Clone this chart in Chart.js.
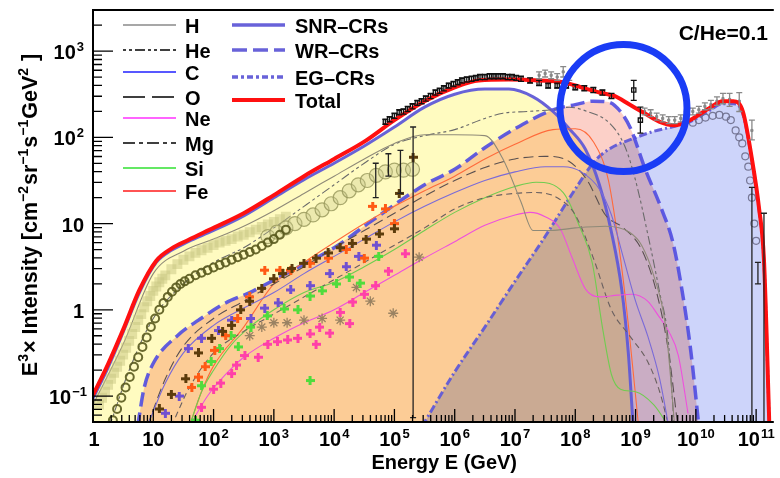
<!DOCTYPE html>
<html>
<head>
<meta charset="utf-8">
<script src="https://cdn.jsdelivr.net/npm/chart.js@4.4.1/dist/chart.umd.min.js"></script>
<style>
  html, body { margin: 0; padding: 0; background: #fff; }
  #wrap { width: 780px; height: 478px; }
</style>
</head>
<body>
<div id="wrap"><canvas id="myChart"></canvas></div>
<script>
// values, all as log10 (E in GeV, E^3 x intensity)
const totalLogE = [0, 0.25, 0.5, 0.77, 1.05, 1.3, 1.58, 2.0, 2.5, 3.0, 3.5, 4.0, 4.5, 5.0, 5.5, 6.0, 6.4, 6.9, 7.4, 7.8, 8.1, 8.4, 8.65, 8.9, 9.15, 9.4, 9.65, 9.9, 10.2, 10.45, 10.62, 10.78, 10.93, 11.05, 11.13, 11.22];
const totalLogI = [-0.99, -0.63, -0.23, 0.23, 0.57, 0.71, 0.81, 0.95, 1.12, 1.33, 1.55, 1.75, 1.95, 2.2, 2.42, 2.58, 2.66, 2.67, 2.66, 2.64, 2.58, 2.52, 2.48, 2.38, 2.28, 2.18, 2.14, 2.2, 2.33, 2.42, 2.42, 2.3, 1.75, 1.17, 0.58, -1.35];

const snrLogE = [0, 0.25, 0.5, 0.77, 1.05, 1.3, 1.58, 2.0, 2.5, 3.0, 3.5, 4.0, 4.5, 5.0, 5.5, 6.0, 6.5, 6.9, 7.3, 7.63, 7.9, 8.17, 8.4, 8.6, 8.77, 8.88, 8.96];
const snrLogI = [-1.03, -0.67, -0.26, 0.2, 0.55, 0.69, 0.79, 0.92, 1.09, 1.3, 1.51, 1.7, 1.9, 2.12, 2.35, 2.5, 2.56, 2.56, 2.47, 2.3, 2.1, 1.86, 1.45, 0.9, 0.24, -0.5, -1.35];

const wrLogE = [0.74, 0.85, 1.0, 1.4, 1.75, 2.2, 2.6, 3.2, 4.0, 4.6, 5.5, 6.0, 6.5, 7.0, 7.63, 8.0, 8.3, 8.55, 8.75, 8.92, 9.15, 9.43, 9.62, 9.8, 9.92, 10.05];
const wrLogI = [-1.35, -0.9, -0.62, -0.3, -0.12, 0.08, 0.2, 0.42, 0.72, 1.02, 1.45, 1.63, 1.88, 2.1, 2.32, 2.38, 2.42, 2.41, 2.3, 2.1, 1.65, 1.17, 0.78, 0.1, -0.5, -1.35];

const egLogE = [5.46, 6.0, 6.5, 7.0, 7.5, 8.0, 8.33, 8.6, 8.94, 9.3, 9.6, 9.9, 10.2, 10.45, 10.62, 10.78, 10.93, 11.05, 11.13, 11.22];
const egLogI = [-1.35, -0.72, -0.2, 0.33, 0.85, 1.4, 1.73, 1.88, 1.98, 2.07, 2.12, 2.18, 2.3, 2.39, 2.39, 2.27, 1.73, 1.15, 0.55, -1.35];

// element curves
const hLogE = [0, 0.5, 1, 1.5, 2, 2.5, 3, 3.5, 4, 4.5, 5, 5.5, 6, 6.5, 6.8, 7.1, 7.3, 7.6, 8.0, 8.5, 8.9, 9.1, 9.3, 9.5, 9.65];
const hLogI = [-1.1, -0.4, 0.42, 0.68, 0.82, 0.97, 1.15, 1.35, 1.55, 1.75, 1.93, 2.03, 2.03, 2.02, 1.75, 1.25, 0.92, 0.92, 0.95, 0.97, 0.9, 0.75, 0.4, -0.2, -1.35];
const heLogE = [0.3, 0.6, 1, 1.5, 2, 2.5, 3, 3.5, 4, 4.5, 5, 5.5, 6, 6.5, 6.8, 7.2, 7.6, 7.9, 8.2, 8.56, 8.82, 9.0, 9.22, 9.4, 9.54, 9.64];
const heLogI = [-1.3, -0.7, -0.1, 0.3, 0.55, 0.72, 0.95, 1.2, 1.45, 1.7, 1.92, 2.02, 2.09, 2.22, 2.28, 2.3, 2.32, 2.35, 2.3, 2.17, 1.9, 1.5, 0.82, 0.2, -0.34, -1.35];
const cLogE = [0.9, 1.2, 1.5, 2, 2.5, 3, 3.5, 4, 4.5, 5, 5.5, 6, 6.5, 7, 7.5, 7.8, 8.1, 8.4, 8.6, 8.8, 9.0, 9.2, 9.4, 9.55];
const cLogI = [-1.35, -0.85, -0.5, -0.18, 0.02, 0.2, 0.42, 0.62, 0.82, 1.02, 1.2, 1.36, 1.5, 1.6, 1.66, 1.66, 1.6, 1.4, 1.1, 0.6, 0.1, -0.3, -0.8, -1.35];
const oLogE = [0.9, 1.2, 1.5, 2, 2.5, 3, 3.5, 4, 4.5, 5, 5.5, 6, 6.5, 7, 7.5, 7.9, 8.2, 8.5, 8.8, 9.1, 9.35, 9.55, 9.7];
const oLogI = [-1.35, -0.8, -0.42, -0.1, 0.1, 0.3, 0.5, 0.72, 0.92, 1.12, 1.32, 1.5, 1.65, 1.75, 1.78, 1.72, 1.5, 1.1, 0.95, 0.7, 0.2, -0.5, -1.35];
const neLogE = [1.6, 1.9, 2.2, 2.5, 3, 3.5, 4, 4.5, 5, 5.5, 6, 6.5, 7, 7.25, 7.5, 7.75, 7.95, 8.17, 8.4, 8.7, 8.94, 9.2, 9.38, 9.55, 9.71, 9.87];
const neLogI = [-1.35, -1.0, -0.75, -0.55, -0.33, -0.15, 0.0, 0.2, 0.4, 0.6, 0.79, 0.98, 1.1, 1.13, 1.08, 0.94, 0.6, 0.24, 0.15, 0.17, 0.18, 0.1, -0.07, -0.25, -0.53, -1.2];
const mgLogE = [1.3, 1.6, 2, 2.5, 3, 3.5, 4, 4.5, 5, 5.5, 6, 6.5, 7, 7.35, 7.7, 8.0, 8.3, 8.6, 8.9, 9.2, 9.4, 9.55];
const mgLogI = [-1.35, -0.9, -0.5, -0.25, -0.05, 0.15, 0.35, 0.55, 0.75, 0.95, 1.17, 1.3, 1.35, 1.36, 1.3, 1.1, 0.6, 0.0, -0.3, -0.6, -0.95, -1.35];
const siLogE = [1.6, 1.8, 2, 2.3, 2.6, 3, 3.5, 4, 4.5, 5, 5.5, 6, 6.5, 7, 7.35, 7.8, 8.07, 8.28, 8.45, 8.6, 8.75, 9.0, 9.3, 9.55];
const siLogI = [-1.35, -0.95, -0.7, -0.4, -0.2, 0.0, 0.2, 0.32, 0.5, 0.7, 0.92, 1.13, 1.3, 1.43, 1.48, 1.36, 0.97, 0.55, -0.2, -0.75, -0.92, -0.95, -1.1, -1.35];
const feLogE = [1.6, 1.8, 2, 2.5, 3, 3.5, 4, 4.5, 5, 5.5, 6, 6.5, 7, 7.63, 8.0, 8.3, 8.55, 8.75, 8.9, 9.05];
const feLogI = [-1.35, -0.95, -0.65, -0.2, 0.3, 0.55, 0.78, 1.0, 1.2, 1.38, 1.55, 1.75, 1.92, 2.09, 2.1, 1.95, 1.5, 0.6, -0.3, -1.35];

// measured points
const hDataE = [0.1, 0.15, 0.2, 0.25, 0.3, 0.35, 0.4, 0.45, 0.5, 0.55, 0.6, 0.65, 0.7, 0.75, 0.8, 0.85, 0.9, 0.95, 1.0, 1.05, 1.1, 1.15, 1.2, 1.3, 1.4, 1.5, 1.6, 1.7, 1.8, 1.9, 2.0, 2.1, 2.2, 2.3, 2.4, 2.5, 2.6, 2.7, 2.8, 2.9, 3.0, 3.1, 3.2];
const hDataI = [-1.1, -1.02, -0.95, -0.87, -0.8, -0.73, -0.66, -0.59, -0.52, -0.44, -0.36, -0.28, -0.2, -0.12, -0.05, 0.03, 0.1, 0.16, 0.22, 0.27, 0.32, 0.36, 0.4, 0.47, 0.53, 0.58, 0.62, 0.66, 0.69, 0.72, 0.75, 0.78, 0.8, 0.82, 0.85, 0.87, 0.9, 0.93, 0.96, 0.99, 1.02, 1.05, 1.08];
const heDataE = [0.33, 0.4, 0.47, 0.54, 0.61, 0.68, 0.75, 0.82, 0.89, 0.96, 1.03, 1.1, 1.17, 1.24, 1.31, 1.38, 1.45, 1.52, 1.6, 1.7, 1.8, 1.9, 2.0, 2.1, 2.2, 2.3, 2.4, 2.5, 2.6, 2.7, 2.8, 2.9, 3.0, 3.1, 3.2];
const heDataI = [-1.28, -1.15, -1.02, -0.9, -0.78, -0.66, -0.55, -0.43, -0.32, -0.2, -0.1, 0.0, 0.08, 0.15, 0.21, 0.26, 0.3, 0.33, 0.36, 0.4, 0.43, 0.46, 0.49, 0.52, 0.55, 0.58, 0.61, 0.64, 0.67, 0.7, 0.74, 0.78, 0.82, 0.87, 0.93];
const bigE = [2.9, 3.05, 3.2, 3.35, 3.5, 3.65, 3.8, 3.95, 4.1, 4.25, 4.4, 4.55, 4.7, 4.85, 5.0, 5.15, 5.3];
const bigI = [0.85, 0.9, 0.95, 1.0, 1.05, 1.1, 1.16, 1.23, 1.3, 1.38, 1.45, 1.5, 1.56, 1.6, 1.62, 1.62, 1.63];
const brownE = [1.1, 1.3, 1.54, 1.75, 1.97, 2.15, 2.3, 2.45, 2.6, 2.8, 3.0, 3.15, 3.3, 3.5, 3.7, 3.9, 4.1, 4.3, 4.53, 4.75, 5.0, 5.08, 5.31];
const brownI = [-1.15, -0.98, -0.8, -0.5, -0.33, -0.25, -0.18, 0.0, 0.1, 0.25, 0.36, 0.42, 0.48, 0.54, 0.6, 0.66, 0.72, 0.77, 0.82, 0.88, 0.94, 1.35, 1.77];
const orangeE = [1.64, 1.75, 1.86, 2.02, 2.2, 2.4, 2.6, 2.85, 3.1, 3.28, 3.6, 3.9, 4.2, 4.5, 4.64, 4.85, 5.0];
const orangeI = [-0.9, -0.78, -0.66, -0.47, -0.3, -0.1, 0.15, 0.46, 0.46, 0.46, 0.54, 0.6, 0.7, 0.6, 1.2, 1.17, 1.0];
const purpleE = [1.2, 1.43, 1.58, 1.8, 2.08, 2.3, 2.62, 2.85, 3.07, 3.28, 3.6, 3.93, 4.2, 4.41, 4.7];
const purpleI = [-1.2, -1.0, -0.45, -0.33, -0.24, -0.12, -0.1, 0.02, 0.08, 0.23, 0.28, 0.42, 0.5, 0.62, 0.75];
const greenE = [1.7, 1.8, 1.96, 2.1, 2.29, 2.41, 2.62, 2.89, 3.17, 3.4, 3.6, 3.8, 4.04, 4.25, 4.43, 4.74, 3.6];
const greenI = [-1.28, -0.88, -0.6, -0.45, -0.3, -0.43, -0.2, -0.07, 0.01, 0.0, 0.16, 0.22, 0.3, 0.38, 0.31, 0.62, -0.82];
const pinkE = [1.8, 2.0, 2.12, 2.3, 2.38, 2.52, 2.74, 2.9, 3.06, 3.23, 3.4, 3.6, 3.76, 3.93, 4.1, 4.26, 4.5, 4.69, 4.9, 5.18, 4.31, 3.7];
const pinkI = [-1.13, -0.92, -0.85, -0.74, -0.64, -0.53, -0.55, -0.4, -0.37, -0.35, -0.33, -0.28, -0.2, -0.27, -0.03, -0.16, 0.18, 0.28, 0.45, 0.65, 0.09, -0.4];
const starE = [2.6, 2.8, 3.0, 3.22, 3.5, 3.8, 4.1, 4.37, 4.6, 4.98, 5.41];
const starI = [-0.3, -0.2, -0.15, -0.15, -0.12, -0.1, -0.12, 0.26, 0.1, -0.04, 0.61];
const kneeE = [4.85, 4.92, 5.0, 5.08, 5.15, 5.22, 5.3, 5.38, 5.45, 5.52, 5.6, 5.68, 5.75, 5.82, 5.9, 5.98, 6.05, 6.12, 6.2, 6.28, 6.35, 6.42, 6.5, 6.58, 6.65, 6.72, 6.8, 6.88, 6.95, 7.02, 7.1, 7.25, 7.4, 7.55, 7.7, 7.85, 8.0, 8.15, 8.3, 8.45, 8.6, 8.97, 9.08];
const kneeI = [2.18, 2.21, 2.25, 2.29, 2.3, 2.33, 2.36, 2.4, 2.42, 2.45, 2.48, 2.52, 2.54, 2.57, 2.6, 2.62, 2.64, 2.66, 2.67, 2.68, 2.69, 2.7, 2.7, 2.71, 2.71, 2.71, 2.71, 2.7, 2.7, 2.69, 2.68, 2.66, 2.63, 2.6, 2.6, 2.6, 2.58, 2.57, 2.55, 2.52, 2.48, 2.55, 2.2];
const kneeLo = [2.15, 2.18, 2.22, 2.26, 2.27, 2.3, 2.33, 2.37, 2.39, 2.42, 2.45, 2.49, 2.51, 2.54, 2.57, 2.59, 2.61, 2.63, 2.64, 2.65, 2.66, 2.67, 2.67, 2.68, 2.68, 2.68, 2.68, 2.67, 2.67, 2.66, 2.65, 2.63, 2.6, 2.57, 2.57, 2.57, 2.55, 2.54, 2.52, 2.49, 2.45, 2.43, 2.05];
const kneeHi = [2.21, 2.24, 2.28, 2.32, 2.33, 2.36, 2.39, 2.43, 2.45, 2.48, 2.51, 2.55, 2.57, 2.6, 2.63, 2.65, 2.67, 2.69, 2.7, 2.71, 2.72, 2.73, 2.73, 2.74, 2.74, 2.74, 2.74, 2.73, 2.73, 2.72, 2.71, 2.69, 2.66, 2.63, 2.63, 2.63, 2.61, 2.6, 2.58, 2.55, 2.51, 2.66, 2.35];
const greyE = [7.4, 7.5, 7.6, 7.7, 7.8, 7.9, 9.15, 9.25, 9.35, 9.45, 9.55, 9.65, 9.75, 9.85, 9.95, 10.05, 10.15, 10.25, 10.35, 10.45, 10.56, 10.72, 10.93];
const greyI = [2.72, 2.74, 2.72, 2.7, 2.76, 2.7, 2.3, 2.28, 2.24, 2.22, 2.2, 2.2, 2.22, 2.26, 2.3, 2.32, 2.36, 2.38, 2.42, 2.45, 2.44, 2.42, 2.08];
const greyLo = [2.68, 2.7, 2.68, 2.66, 2.7, 2.66, 2.26, 2.24, 2.2, 2.18, 2.16, 2.16, 2.18, 2.22, 2.26, 2.28, 2.32, 2.33, 2.37, 2.39, 2.36, 2.3, 1.97];
const greyHi = [2.76, 2.78, 2.76, 2.74, 2.82, 2.74, 2.34, 2.32, 2.28, 2.26, 2.24, 2.24, 2.26, 2.3, 2.34, 2.36, 2.4, 2.43, 2.47, 2.51, 2.51, 2.52, 2.2];
const egDataE = [9.95, 10.05, 10.16, 10.28, 10.39, 10.5, 10.58, 10.66, 10.72, 10.77, 10.82, 10.87, 10.9, 10.93, 10.97, 11.0];
const egDataI = [2.17, 2.2, 2.23, 2.25, 2.26, 2.24, 2.2, 2.08, 2.0, 1.93, 1.78, 1.66, 1.5, 1.3, 1.0, 0.8];
const barE = [4.69, 4.9, 5.1, 5.31, 10.93, 11.13, 11.03];
const barI = [1.5, 1.68, 1.6, 1.77, 1.28, 1.0, 0.42];
const barLo = [1.3, 1.55, 1.35, -1.25, -1.4, -1.4, 0.3];
const barHi = [1.7, 1.81, 1.85, 2.12, 1.42, 1.12, 0.55];

const xTickExps = [0, 1, 2, 3, 4, 5, 6, 7, 8, 9, 10, 11];
const yTickExps = [-1, 0, 1, 2, 3];

const pts = (le, li) => le.map((e, i) => ({ x: Math.pow(10, e), y: Math.pow(10, li[i]) }));
const errs = (lo) => lo.map(v => (v === null ? null : Math.pow(10, v)));

function crossImg(color) {
  const c = document.createElement('canvas');
  c.width = c.height = 9;
  const g = c.getContext('2d');
  g.fillStyle = color;
  g.fillRect(3, 0, 3, 9);
  g.fillRect(0, 3, 9, 3);
  return c;
}

const FONT = '"Liberation Sans", Arial, Helvetica, sans-serif';
const compCol = 'rgba(96,90,215,0.95)';

function curve(le, li, color, width, dash, order, fillColor) {
  return {
    data: pts(le, li), borderColor: color, borderWidth: width, borderDash: dash || [],
    pointRadius: 0, cubicInterpolationMode: 'monotone', order: order,
    fill: fillColor ? 'start' : false, backgroundColor: fillColor || 'transparent'
  };
}
function marks(le, li, style, opts) {
  return Object.assign({
    data: pts(le, li), showLine: false, pointStyle: style, pointRadius: 4,
    borderWidth: 1, order: 2
  }, opts);
}

const datasets = [
  curve(totalLogE, totalLogI, '#ff1010', 4, [], 0),
  curve(snrLogE, snrLogI, compCol, 3, [], 20, '#fffbc0'),
  curve(wrLogE, wrLogI, 'rgba(80,76,225,0.9)', 3.5, [14, 6], 21, '#fcd0c8'),
  curve(egLogE, egLogI, compCol, 3, [8, 3, 2, 3], 22, '#cdd4fa'),
  curve(hLogE, hLogI, '#8f8a78', 1.1, [], 10),
  curve(heLogE, heLogI, '#6a6a6a', 1.1, [3, 3, 3, 3, 9, 3], 11),
  curve(cLogE, cLogI, '#7a6ad8', 1.1, [], 12),
  curve(oLogE, oLogI, '#5a5050', 1.1, [10, 5], 13),
  curve(neLogE, neLogI, '#ee50dd', 1.1, [], 14),
  curve(mgLogE, mgLogI, '#6a6060', 1.1, [6, 4], 15),
  curve(siLogE, siLogI, '#70cc50', 1.1, [], 16),
  curve(feLogE, feLogI, '#ff6a3a', 1.1, [], 17),
  marks(hDataE, hDataI, 'rect', { pointRadius: 7, backgroundColor: 'rgba(200,198,130,0.5)', borderColor: 'rgba(0,0,0,0)', borderWidth: 0, order: 6 }),
  marks(heDataE, heDataI, 'circle', { pointRadius: 4, backgroundColor: 'rgba(255,255,255,0)', borderColor: 'rgba(90,90,30,0.9)', borderWidth: 2, order: 5 }),
  marks(bigE, bigI, 'circle', { pointRadius: 7, backgroundColor: 'rgba(200,200,140,0.35)', borderColor: 'rgba(150,150,90,0.8)', borderWidth: 1.2, order: 5 }),
  marks(brownE, brownI, crossImg('#5c3c0c'), { order: 3 }),
  marks(orangeE, orangeI, crossImg('#ff5a14'), { order: 3 }),
  marks(purpleE, purpleI, crossImg('#7050d0'), { order: 3 }),
  marks(greenE, greenI, crossImg('#50dc3c'), { order: 3 }),
  marks(pinkE, pinkI, crossImg('#ff40a8'), { order: 3 }),
  marks(starE, starI, 'star', { pointRadius: 5, borderColor: '#9a8262', borderWidth: 1.3, order: 3 }),
  marks(kneeE, kneeI, 'rect', { pointRadius: 3, backgroundColor: 'rgba(255,255,255,0)', borderColor: '#111', borderWidth: 1.3, order: 1,
    errLo: errs(kneeLo), errHi: errs(kneeHi) }),
  marks(greyE, greyI, 'rect', { pointRadius: 1.5, backgroundColor: '#888', borderColor: '#888', order: 1,
    errLo: errs(greyLo), errHi: errs(greyHi) }),
  marks(egDataE, egDataI, 'circle', { pointRadius: 3.5, backgroundColor: 'rgba(255,255,255,0)', borderColor: 'rgba(110,110,140,0.9)', borderWidth: 1.2, order: 1 }),
  marks(barE, barI, 'rect', { pointRadius: 0, borderColor: '#222', order: 1, errLo: errs(barLo), errHi: errs(barHi) })
];

function drawPow(ctx, exp, x, y, align) {
  const base = exp === 0 ? '1' : '10';
  const sup = (exp === 0 || exp === 1) ? '' : (exp < 0 ? '\u2212' + (-exp) : String(exp));
  ctx.font = 'bold 20px ' + FONT;
  const wb = ctx.measureText(base).width;
  ctx.font = 'bold 13px ' + FONT;
  const ws = sup ? ctx.measureText(sup).width + 1 : 0;
  const w = wb + ws;
  const x0 = align === 'right' ? x - w : x - w / 2;
  ctx.textAlign = 'left';
  ctx.font = 'bold 20px ' + FONT;
  ctx.fillText(base, x0, y);
  if (sup) { ctx.font = 'bold 13px ' + FONT; ctx.fillText(sup, x0 + wb + 1, y - 8); }
}

const BASE_F = 'bold 21.5px ', SUP_F = 'bold 14px ';
function drawRich(ctx, parts, x, y) {
  let cx = x;
  parts.forEach(p => {
    ctx.font = (p[1] ? SUP_F : BASE_F) + FONT;
    ctx.fillText(p[0], cx, y - (p[1] ? 9 : 0));
    cx += ctx.measureText(p[0]).width + (p[1] ? 1 : 0);
  });
}
function richWidth(ctx, parts) {
  let w = 0;
  parts.forEach(p => {
    ctx.font = (p[1] ? SUP_F : BASE_F) + FONT;
    w += ctx.measureText(p[0]).width + (p[1] ? 1 : 0);
  });
  return w;
}

const legendLeft = [
  ['H', '#8a8a8a', [], 25], ['He', '#000', [3, 3, 3, 3, 10, 3], 50], ['C', '#2020ff', [], 72],
  ['O', '#000', [22, 7], 97], ['Ne', '#ff30ff', [], 118], ['Mg', '#000', [12, 4, 4, 4], 143],
  ['Si', '#30e030', [], 168], ['Fe', '#ff1a1a', [], 191]
];
const legendRight = [
  ['SNR\u2013CRs', compCol, [], 25, 3.5], ['WR\u2013CRs', compCol, [15, 6], 50, 3.5],
  ['EG\u2013CRs', compCol, [6, 3, 3, 3], 77, 3.5], ['Total', '#ff1010', [], 100, 4]
];

const rootStyle = {
  id: 'rootStyle',
  beforeRender(chart) { chart.ctx.globalCompositeOperation = 'multiply'; },
  beforeDatasetsDraw(chart) { chart.ctx.globalCompositeOperation = 'source-over'; },
  afterDatasetsDraw(chart) {
    const ctx = chart.ctx, a = chart.chartArea;
    ctx.save();
    ctx.beginPath(); ctx.rect(a.left, a.top, a.right - a.left, a.bottom - a.top); ctx.clip();
    chart.data.datasets.forEach((ds, di) => {
      if (!ds.errLo) return;
      const meta = chart.getDatasetMeta(di);
      ctx.strokeStyle = ds.borderColor; ctx.lineWidth = 1.3;
      ds.errLo.forEach((lo, i) => {
        if (lo === null) return;
        const px = meta.data[i].x;
        const y1 = chart.scales.y.getPixelForValue(lo), y2 = chart.scales.y.getPixelForValue(ds.errHi[i]);
        ctx.beginPath();
        ctx.moveTo(px, y1); ctx.lineTo(px, y2);
        ctx.moveTo(px - 3, y1); ctx.lineTo(px + 3, y1);
        ctx.moveTo(px - 3, y2); ctx.lineTo(px + 3, y2);
        ctx.stroke();
      });
    });
    ctx.restore();
  },
  afterDraw(chart) {
    const ctx = chart.ctx, a = chart.chartArea, xs = chart.scales.x, ys = chart.scales.y;
    ctx.save();
    ctx.globalCompositeOperation = 'source-over';
    ctx.strokeStyle = '#000'; ctx.fillStyle = '#000';
    // frame
    ctx.lineWidth = 2;
    ctx.beginPath();
    ctx.moveTo(a.right + 2, a.top); ctx.lineTo(a.left, a.top); ctx.lineTo(a.left, a.bottom); ctx.lineTo(a.right + 2, a.bottom);
    ctx.stroke();
    // ticks inside
    ctx.lineWidth = 1.3;
    ctx.beginPath();
    for (let k = 0; k <= 11; k++) for (let m = 1; m <= 9; m++) {
      const v = m * Math.pow(10, k);
      if (v > xs.max) break;
      const px = xs.getPixelForValue(v);
      ctx.moveTo(px, a.bottom); ctx.lineTo(px, a.bottom - (m === 1 ? 13 : 7));
    }
    for (let k = -2; k <= 3; k++) for (let m = 1; m <= 9; m++) {
      const v = m * Math.pow(10, k);
      if (v < ys.min || v > ys.max) continue;
      const py = ys.getPixelForValue(v);
      ctx.moveTo(a.left, py); ctx.lineTo(a.left + (m === 1 ? 20 : 9), py);
    }
    ctx.stroke();
    // tick labels
    ctx.textBaseline = 'alphabetic';
    xTickExps.forEach(k => drawPow(ctx, k, xs.getPixelForValue(Math.pow(10, k)) + (k === 0 ? 1 : 0), 446, 'center'));
    yTickExps.forEach(k => drawPow(ctx, k, k < 0 ? 87 : 84, ys.getPixelForValue(Math.pow(10, k)) + 8, 'right'));
    // axis titles
    ctx.font = 'bold 20px ' + FONT;
    ctx.textAlign = 'right';
    ctx.fillText('Energy E (GeV)', 517, 469);
    ctx.textAlign = 'left';
    const yt = [['E', 0], ['3', 1], ['\u00d7 Intensity [cm', 0], ['\u22122', 1], ['sr', 0], ['\u22121', 1], ['s', 0], ['\u22121', 1], ['GeV', 0], ['2', 1], [' ]', 0]];
    ctx.save();
    ctx.translate(37, 215);
    ctx.rotate(-Math.PI / 2);
    const tw = richWidth(ctx, yt);
    drawRich(ctx, yt, -tw / 2, 0);
    ctx.restore();
    // legend
    legendLeft.forEach(it => {
      ctx.strokeStyle = it[1]; ctx.lineWidth = 1.5; ctx.setLineDash(it[2]);
      ctx.beginPath(); ctx.moveTo(123, it[3]); ctx.lineTo(176, it[3]); ctx.stroke();
      ctx.setLineDash([]);
      ctx.font = 'bold 20px ' + FONT; ctx.fillStyle = '#000';
      ctx.fillText(it[0], 185, it[3] + 8);
    });
    legendRight.forEach(it => {
      ctx.strokeStyle = it[1]; ctx.lineWidth = it[4]; ctx.setLineDash(it[2]);
      ctx.beginPath(); ctx.moveTo(232, it[3]); ctx.lineTo(285, it[3]); ctx.stroke();
      ctx.setLineDash([]);
      ctx.font = 'bold 20px ' + FONT; ctx.fillStyle = '#000';
      ctx.fillText(it[0], 295, it[3] + 8);
    });
    ctx.font = 'bold 21px ' + FONT;
    ctx.textAlign = 'right';
    ctx.fillText('C/He=0.1', 768, 40);
    // highlight ring
    const cx = xs.getPixelForValue(Math.pow(10, 8.8)), cy = ys.getPixelForValue(Math.pow(10, 2.34));
    ctx.strokeStyle = '#1a3cf5'; ctx.lineWidth = 7;
    ctx.beginPath(); ctx.arc(cx, cy, 63.5, 0, Math.PI * 2); ctx.stroke();
    ctx.restore();
  }
};

new Chart(document.getElementById('myChart').getContext('2d'), {
  type: 'line',
  data: { datasets: datasets },
  options: {
    responsive: true,
    maintainAspectRatio: false,
    animation: false,
    events: [],
    devicePixelRatio: 1,
    layout: { padding: { top: 10, right: 0, left: 0, bottom: 0 } },
    plugins: { legend: { display: false }, tooltip: { enabled: false }, filler: { drawTime: 'beforeDraw' } },
    scales: {
      x: {
        type: 'logarithmic', min: 1, max: Math.pow(10, 11.26),
        grid: { display: false }, border: { display: false }, ticks: { display: false },
        afterFit(s) { s.height = 56; }
      },
      y: {
        type: 'logarithmic', min: 0.05, max: 3000,
        grid: { display: false }, border: { display: false }, ticks: { display: false },
        afterFit(s) { s.width = 93; }
      }
    }
  },
  plugins: [rootStyle]
});
</script>
</body>
</html>
